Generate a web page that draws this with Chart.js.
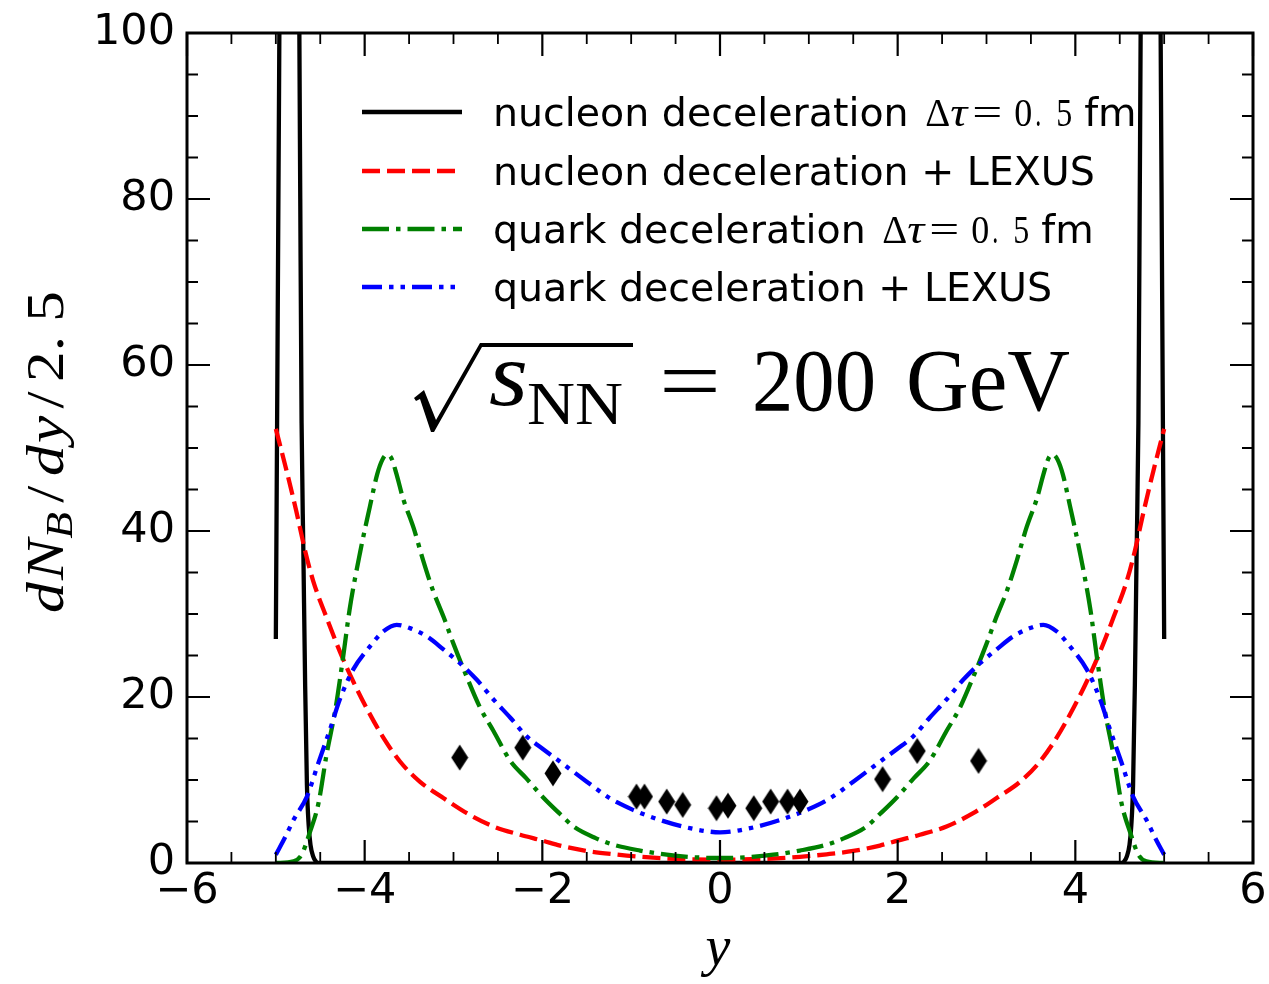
<!DOCTYPE html>
<html>
<head>
<meta charset="utf-8">
<script src="https://cdn.jsdelivr.net/npm/chart.js@4.4.0/dist/chart.umd.min.js"></script>
<style>
  html, body { margin: 0; padding: 0; background: #ffffff; }
  canvas { display: block; }
</style>
</head>
<body>
<canvas id="chart" width="1269" height="984"></canvas>
<script>
// Axis tick values
const rapidityTicks = [-6, -4, -2, 0, 2, 4, 6];
const yieldTicks = [0, 20, 40, 60, 80, 100];

// Nucleon deceleration, delta tau = 0.5 fm (the fragmentation peaks run far above the frame)
const nucDecelY = [-5.0, -4.97, -4.95, -4.85, -4.745, -4.725, -4.71, -4.69, -4.67, -4.65, -4.63, -4.61, -4.58, -4.55, -4.52,
                   4.52, 4.55, 4.58, 4.61, 4.63, 4.65, 4.67, 4.69, 4.71, 4.725, 4.745, 4.85, 4.95, 4.97, 5.0];
const nucDecelN = [27, 82, 120, 400, 120, 80, 53, 37.5, 21.4, 9.4, 4.5, 2.2, 0.8, 0.2, 0,
                   0, 0.2, 0.8, 2.2, 4.5, 9.4, 21.4, 37.5, 53, 80, 120, 400, 120, 82, 27];

// Nucleon deceleration + LEXUS
const nucLexusY = [-5.0, -4.88, -4.77, -4.67, -4.58, -4.43, -4.28, -4.13, -3.98, -3.79, -3.6, -3.38, -3.11, -2.85, -2.55, -2.25, -2.0, -1.8, -1.5, -1.2, -0.9, -0.5, 0,
                   0.5, 0.9, 1.2, 1.5, 1.8, 2.0, 2.25, 2.55, 2.85, 3.11, 3.38, 3.6, 3.79, 3.98, 4.13, 4.28, 4.43, 4.58, 4.67, 4.77, 4.88, 5.0];
const nucLexusN = [52.3, 47.3, 42.4, 37.6, 34.0, 29.6, 25.5, 21.9, 18.7, 15.1, 12.2, 9.8, 7.8, 6.0, 4.4, 3.4, 2.7, 2.1, 1.45, 1.05, 0.75, 0.5, 0.4,
                   0.5, 0.75, 1.05, 1.45, 2.1, 2.7, 3.4, 4.4, 6.0, 7.8, 9.8, 12.2, 15.1, 18.7, 21.9, 25.5, 29.6, 34.0, 37.6, 42.4, 47.3, 52.3];

// Quark deceleration, delta tau = 0.5 fm
const qDecelY = [-5.0, -4.8, -4.71, -4.62, -4.52, -4.43, -4.33, -4.24, -4.17, -4.05, -3.94, -3.86, -3.8, -3.75, -3.7, -3.64, -3.57, -3.45, -3.34, -3.23, -3.11, -3.0, -2.85, -2.7, -2.55, -2.36, -2.18, -1.99, -1.8, -1.65, -1.4, -1.2, -0.9, -0.6, -0.3, 0,
                 0.3, 0.6, 0.9, 1.2, 1.4, 1.65, 1.8, 1.99, 2.18, 2.36, 2.55, 2.7, 2.85, 3.0, 3.11, 3.23, 3.34, 3.45, 3.57, 3.64, 3.7, 3.75, 3.8, 3.86, 3.94, 4.05, 4.17, 4.24, 4.33, 4.43, 4.52, 4.62, 4.71, 4.8, 5.0];
const qDecelN = [0.0, 0.2, 1.0, 3.6, 7.2, 13.0, 18.5, 25.0, 30.5, 37.5, 43.0, 46.8, 48.6, 49.2, 48.8, 46.8, 44.0, 40.4, 36.4, 32.8, 29.6, 26.4, 22.4, 18.7, 15.9, 12.3, 10.2, 7.9, 5.9, 4.4, 3.0, 2.2, 1.5, 1.0, 0.7, 0.6,
                 0.7, 1.0, 1.5, 2.2, 3.0, 4.4, 5.9, 7.9, 10.2, 12.3, 15.9, 18.7, 22.4, 26.4, 29.6, 32.8, 36.4, 40.4, 44.0, 46.8, 48.8, 49.2, 48.6, 46.8, 43.0, 37.5, 30.5, 25.0, 18.5, 13.0, 7.2, 3.6, 1.0, 0.2, 0.0];

// Quark deceleration + LEXUS
const qLexusY = [-5.0, -4.9, -4.8, -4.65, -4.52, -4.39, -4.28, -4.13, -3.94, -3.79, -3.64, -3.49, -3.3, -3.11, -2.93, -2.74, -2.55, -2.36, -2.18, -1.99, -1.8, -1.5, -1.24, -0.98, -0.68, -0.34, 0,
                 0.34, 0.68, 0.98, 1.24, 1.5, 1.8, 1.99, 2.18, 2.36, 2.55, 2.74, 2.93, 3.11, 3.3, 3.49, 3.64, 3.79, 3.94, 4.13, 4.28, 4.39, 4.52, 4.65, 4.8, 4.9, 5.0];
const qLexusN = [1.0, 3.0, 5.2, 8.0, 12.1, 16.1, 19.7, 23.3, 26.1, 27.9, 28.7, 28.3, 27.3, 25.7, 24.1, 22.1, 19.7, 17.5, 15.3, 13.7, 12.2, 9.8, 7.8, 6.4, 5.2, 4.2, 3.7,
                 4.2, 5.2, 6.4, 7.8, 9.8, 12.2, 13.7, 15.3, 17.5, 19.7, 22.1, 24.1, 25.7, 27.3, 28.3, 28.7, 27.9, 26.1, 23.3, 19.7, 16.1, 12.1, 8.0, 5.2, 3.0, 1.0];

// Measured net-baryon points
const dataY = [-2.93, -2.22, -1.88, -0.94, -0.85, -0.6, -0.42, -0.04, 0.09, 0.38, 0.57, 0.76, 0.9, 1.83, 2.22, 2.91];
const dataN = [12.7, 13.9, 10.8, 8.0, 8.0, 7.4, 7.0, 6.6, 6.9, 6.6, 7.4, 7.4, 7.4, 10.1, 13.5, 12.3];

// Legend entries
const legendLabels = ['nucleon deceleration', 'nucleon deceleration + LEXUS', 'quark deceleration', 'quark deceleration + LEXUS'];
const legendHasTau = [true, false, true, false];

const COLORS = { black: '#000000', red: '#ff0000', green: '#008000', blue: '#0000ff' };
const DASH = {
  solid: [],
  dashed: [18, 7],
  dashDot: [27, 7, 4.5, 7],
  dashDotDot: [20, 7, 4.5, 7, 4.5, 7]
};
const LINE_W = 4.3;

const SERIF = '"Liberation Serif", "Times New Roman", serif';
const SANS = '"DejaVu Sans", sans-serif';

function points(xs, ys) { return xs.map((x, i) => ({ x: x, y: ys[i] })); }

function curve(label, xs, ys, color, dash, order) {
  return {
    label: label, data: points(xs, ys), showLine: true,
    borderColor: color, backgroundColor: color, borderWidth: LINE_W, borderDash: dash,
    borderCapStyle: 'butt', borderJoinStyle: 'round',
    pointRadius: 0, pointHoverRadius: 0, fill: false,
    cubicInterpolationMode: 'monotone', order: order, clip: 1
  };
}

// thin diamond marker
const thinDiamond = (function () {
  const c = document.createElement('canvas');
  c.width = 18; c.height = 27;
  const g = c.getContext('2d');
  g.fillStyle = '#000';
  g.beginPath();
  g.moveTo(9, 0.5); g.lineTo(17.5, 13.5); g.lineTo(9, 26.5); g.lineTo(0.5, 13.5);
  g.closePath(); g.fill();
  return c;
})();

function tickText(v) { return v < 0 ? '\u2212' + Math.abs(v) : String(v); }

// draws a run of text squeezed/stretched to span [x0, x1]
function fitText(ctx, text, font, x0, x1, baseline) {
  ctx.save();
  ctx.font = font;
  ctx.textAlign = 'left';
  ctx.textBaseline = 'alphabetic';
  const w = ctx.measureText(text).width;
  const s = (x1 - x0) / w;
  ctx.translate(x0, baseline);
  ctx.scale(s, 1);
  ctx.fillText(text, 0, 0);
  ctx.restore();
}

// inward ticks on every side plus the frame
const frameTicks = {
  id: 'frameTicks',
  afterDatasetsDraw(chart) {
    const { ctx, chartArea: a, scales } = chart;
    const xs = scales.x, ys = scales.y;
    ctx.save();
    ctx.strokeStyle = '#000';
    const major = 23, minor = 11;
    for (let v = -6; v <= 6.001; v += 0.5) {
      const isMajor = rapidityTicks.some(t => Math.abs(t - v) < 1e-6);
      const len = isMajor ? major : minor;
      const px = xs.getPixelForValue(v);
      ctx.lineWidth = isMajor ? 2.2 : 1.8;
      ctx.beginPath();
      ctx.moveTo(px, a.bottom); ctx.lineTo(px, a.bottom - len);
      ctx.moveTo(px, a.top); ctx.lineTo(px, a.top + len);
      ctx.stroke();
    }
    for (let v = 0; v <= 100.001; v += 5) {
      const isMajor = yieldTicks.some(t => Math.abs(t - v) < 1e-6);
      const len = isMajor ? major : minor;
      const py = ys.getPixelForValue(v);
      ctx.lineWidth = isMajor ? 2.2 : 1.8;
      ctx.beginPath();
      ctx.moveTo(a.left, py); ctx.lineTo(a.left + len, py);
      ctx.moveTo(a.right, py); ctx.lineTo(a.right - len, py);
      ctx.stroke();
    }
    ctx.lineWidth = 3;
    ctx.strokeRect(a.left, a.top, a.right - a.left, a.bottom - a.top);
    ctx.restore();
  }
};

// legend, energy label and axis titles
const decorations = {
  id: 'decorations',
  afterDraw(chart) {
    const ctx = chart.ctx;
    ctx.save();
    ctx.fillStyle = '#000';

    // legend
    const rowY = [112, 171, 229, 287];
    const styles = [
      [COLORS.black, DASH.solid], [COLORS.red, DASH.dashed],
      [COLORS.green, DASH.dashDot], [COLORS.blue, DASH.dashDotDot]
    ];
    const sans = '39.5px ' + SANS;
    for (let i = 0; i < 4; i++) {
      const y = rowY[i];
      ctx.save();
      ctx.strokeStyle = styles[i][0];
      ctx.lineWidth = LINE_W;
      ctx.setLineDash(styles[i][1]);
      ctx.beginPath(); ctx.moveTo(362, y); ctx.lineTo(462, y); ctx.stroke();
      ctx.restore();

      ctx.font = sans;
      ctx.textAlign = 'left';
      ctx.textBaseline = 'alphabetic';
      const base = y + 14;
      ctx.fillText(legendLabels[i], 493, base);
      if (legendHasTau[i]) {
        const x = 493 + ctx.measureText(legendLabels[i] + ' ').width + 4;
        const m = '40px ' + SERIF;
        fitText(ctx, '\u0394', m, x, x + 25, base);
        fitText(ctx, '\u03C4', 'italic ' + m, x + 25, x + 42, base);
        fitText(ctx, '=', m, x + 47, x + 77, base);
        fitText(ctx, '0', m, x + 89, x + 107, base);
        fitText(ctx, '.', m, x + 110, x + 116, base);
        fitText(ctx, '5', m, x + 131, x + 147, base);
        ctx.font = sans;
        ctx.fillText('fm', x + 159, base);
      }
    }

    // sqrt(s_NN) = 200 GeV
    ctx.beginPath();
    ctx.moveTo(414, 398);
    ctx.lineTo(424, 390);
    ctx.lineTo(436, 420);
    ctx.lineTo(480, 343);
    ctx.lineTo(633, 343);
    ctx.lineTo(633, 347);
    ctx.lineTo(482, 347);
    ctx.lineTo(434, 432);
    ctx.lineTo(431, 432);
    ctx.lineTo(420, 399);
    ctx.lineTo(416, 401);
    ctx.closePath();
    ctx.fill();
    fitText(ctx, 's', 'italic 90px ' + SERIF, 489, 528, 405);
    fitText(ctx, 'NN', '62px ' + SERIF, 527, 623, 424);
    fitText(ctx, '=', '86px ' + SERIF, 659, 721, 410);
    fitText(ctx, '200', '88px ' + SERIF, 752, 876, 410);
    fitText(ctx, 'GeV', '88px ' + SERIF, 906, 1070, 410);

    // x title
    ctx.font = 'italic 56px ' + SERIF;
    ctx.textAlign = 'center';
    ctx.textBaseline = 'alphabetic';
    ctx.fillText('y', 718, 965);

    // y title, rotated and stretched along its length
    ctx.save();
    ctx.translate(63, 613);
    ctx.rotate(-Math.PI / 2);
    const it = 'italic 52px ' + SERIF;
    const rm = '52px ' + SERIF;
    const runs = [
      ['d', it, 0, 0], ['N', it, 2, 0], ['B', 'italic 37px ' + SERIF, 0, 9],
      ['/', rm, 8, 0], ['d', it, 8, 0], ['y', it, 2, 0], ['/', rm, 6, 0],
      ['2', rm, 8, 0], ['.', rm, 0, 0], ['5', rm, 12, 0]
    ];
    ctx.textAlign = 'left';
    let total = 0;
    for (const [t, f, gap] of runs) { ctx.font = f; total += gap + ctx.measureText(t).width; }
    ctx.scale(322 / total, 1);
    let x = 0;
    for (const [t, f, gap, dy] of runs) {
      x += gap;
      ctx.font = f;
      ctx.fillText(t, x, dy);
      x += ctx.measureText(t).width;
    }
    ctx.restore();

    ctx.restore();
  }
};

function build() {
  return new Chart(document.getElementById('chart'), {
    type: 'scatter',
    data: {
      datasets: [
        {
          label: 'data', data: points(dataY, dataN), showLine: false,
          pointStyle: thinDiamond, pointRadius: 13, pointHoverRadius: 13,
          backgroundColor: '#000', borderColor: '#000', order: 1
        },
        curve('quark deceleration + LEXUS', qLexusY, qLexusN, COLORS.blue, DASH.dashDotDot, 2),
        curve('quark deceleration', qDecelY, qDecelN, COLORS.green, DASH.dashDot, 3),
        curve('nucleon deceleration + LEXUS', nucLexusY, nucLexusN, COLORS.red, DASH.dashed, 4),
        curve('nucleon deceleration', nucDecelY, nucDecelN, COLORS.black, DASH.solid, 5)
      ]
    },
    options: {
      responsive: false,
      animation: false,
      events: [],
      layout: { padding: { top: 33, right: 16, bottom: 0, left: 0 } },
      plugins: { legend: { display: false }, tooltip: { enabled: false } },
      scales: {
        x: {
          type: 'linear', min: -6, max: 6,
          afterBuildTicks(s) { s.ticks = rapidityTicks.map(v => ({ value: v })); },
          ticks: {
            font: { family: 'DejaVu Sans', size: 43 }, color: '#000', padding: 3,
            maxRotation: 0, autoSkip: false, callback: v => tickText(v)
          },
          grid: { display: false, drawTicks: false },
          border: { display: false },
          afterFit(s) { s.height = 121; s.paddingLeft = 0; s.paddingRight = 0; }
        },
        y: {
          type: 'linear', min: 0, max: 100,
          afterBuildTicks(s) { s.ticks = yieldTicks.map(v => ({ value: v })); },
          ticks: {
            font: { family: 'DejaVu Sans', size: 43 }, color: '#000', padding: 12,
            autoSkip: false, callback: v => tickText(v)
          },
          grid: { display: false, drawTicks: false },
          border: { display: false },
          afterFit(s) { s.width = 187; s.paddingTop = 0; s.paddingBottom = 0; }
        }
      }
    },
    plugins: [frameTicks, decorations]
  });
}

const fontLoads = [
  '86px "Liberation Serif"', 'italic 86px "Liberation Serif"',
  '42px "DejaVu Sans"'
].map(f => document.fonts.load(f).catch(() => null));
Promise.all(fontLoads).then(build, build);
</script>
</body>
</html>
